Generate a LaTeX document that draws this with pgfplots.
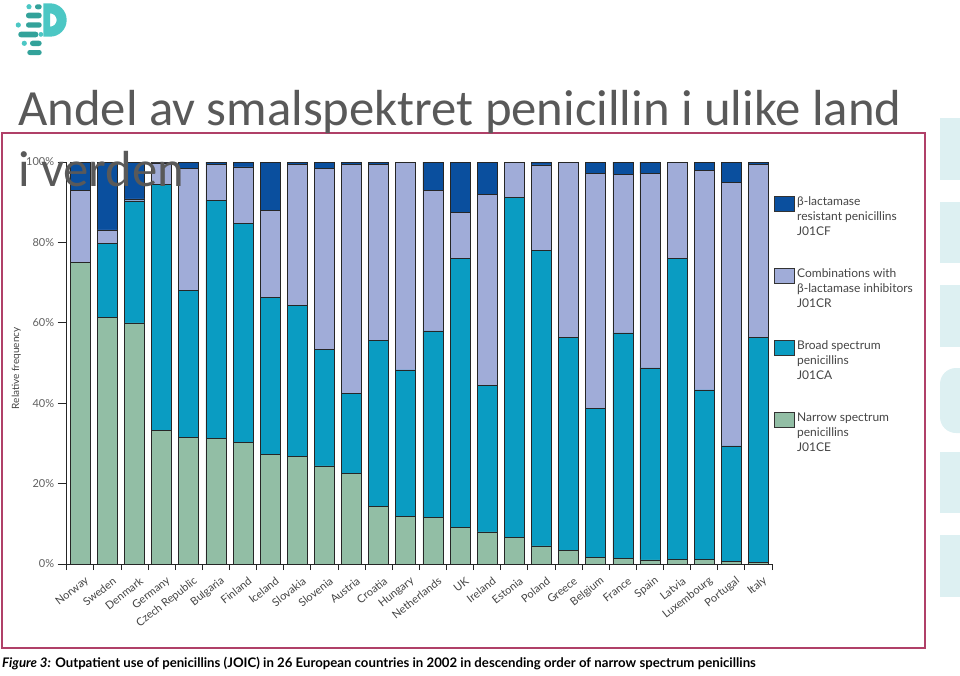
\documentclass[border=0pt]{standalone}
\usepackage{fontspec}
\usepackage{pgfplots}
\usepackage{pgfplotstable}
\pgfplotsset{compat=1.18}
\setmainfont{Lato}
\newfontfamily\titlefont{Carlito}
\definecolor{cCE}{HTML}{92BEA5}
\definecolor{cCA}{HTML}{0A9CC2}
\definecolor{cCR}{HTML}{A0ACD8}
\definecolor{cCF}{HTML}{0A4F9E}
\definecolor{framecol}{HTML}{B04068}
\definecolor{deco}{HTML}{DDF0F2}
\definecolor{titlegray}{HTML}{595959}
\definecolor{axgray}{HTML}{444444}
\definecolor{logodark}{HTML}{33A29A}
\definecolor{logolight}{HTML}{4CC7C4}

\pgfplotstableread{
x CE CA CR CF
0 75.0 0.0 18.0 7.0
1 61.3 18.5 3.3 16.9
2 60.0 30.3 0.5 9.2
3 33.2 61.2 5.4 0.2
4 31.4 36.6 30.4 1.6
5 31.2 59.3 8.9 0.6
6 30.3 54.4 14.1 1.2
7 27.3 39.0 21.7 12.0
8 26.7 37.7 35.0 0.6
9 24.4 29.0 45.0 1.6
10 22.6 19.9 56.9 0.6
11 14.3 41.4 43.7 0.6
12 11.8 36.5 51.7 0.0
13 11.5 46.5 35.0 7.0
14 9.2 66.8 11.4 12.6
15 8.0 36.5 47.5 8.0
16 6.6 84.5 8.9 0.0
17 4.5 73.6 21.2 0.7
18 3.3 53.0 43.7 0.0
19 1.7 37.0 58.5 2.8
20 1.4 56.1 39.4 3.1
21 1.0 47.8 48.4 2.8
22 1.2 74.8 24.0 0.0
23 1.2 42.1 54.7 2.0
24 0.6 28.8 65.5 5.1
25 0.4 56.0 43.0 0.6
}\data

\pgfplotsset{
  legbox/.style={legend image code/.code={\draw[##1,draw=black!80,line width=0.6bp] (0bp,5bp) rectangle (20bp,20bp);}},
}

\begin{document}
\begin{tikzpicture}
\path[use as bounding box] (0,0) rectangle (960bp,-676bp);
% right-side decoration
\fill[deco] (940bp,-118bp) rectangle (960bp,-180bp);
\fill[deco] (940bp,-202bp) rectangle (960bp,-263bp);
\fill[deco] (940bp,-285bp) rectangle (960bp,-347bp);
\fill[deco] (960bp,-368bp) [rounded corners=16bp] -- (940bp,-368bp) -- (940bp,-433bp) [sharp corners] -- (960bp,-433bp) -- cycle;
\fill[deco] (940bp,-452bp) rectangle (960bp,-513bp);
\fill[deco] (940bp,-535bp) rectangle (960bp,-597bp);
% frame
\draw[framecol, line width=1.5bp] (2bp,-133bp) rectangle (925bp,-648bp);

\begin{axis}[
  at={(66.7bp,-564bp)}, anchor=south west,
  scale only axis, width=705.3bp, height=402bp,
  xmin=-0.5, xmax=25.5, ymin=0, ymax=100,
  ybar stacked, bar width=20bp,
  axis x line*=bottom, axis y line*=left,
  axis line style={black!85, line width=0.8bp},
  every tick/.style={black!85, line width=0.8bp},
  tick align=outside,
  major tick length=9bp, minor tick length=6bp,
  xtick={0,...,25},
  major x tick style={draw=none},
  minor xtick={-0.5,0.5,...,25.5},
  xticklabels={Norway,Sweden,Denmark,Germany,Czech Republic,Bulgaria,Finland,Iceland,Slovakia,Slovenia,Austria,Croatia,Hungary,Netherlands,UK,Ireland,Estonia,Poland,Greece,Belgium,France,Spain,Latvia,Luxembourg,Portugal,Italy},
  x tick label style={xshift=8bp, yshift=-6bp, rotate=38, anchor=east, font=\fontsize{11bp}{13bp}\selectfont, text=axgray, inner sep=1bp},
  ytick={0,20,...,100},
  yticklabel={\pgfmathprintnumber{\tick}\%},
  y tick label style={font=\fontsize{11bp}{13bp}\selectfont, text=axgray!85},
  /pgf/number format/assume math mode=true,
  ylabel={Relative frequency},
  ylabel style={font=\fontsize{10bp}{12bp}\selectfont, text=axgray, at={(axis description cs:-0.06,0.487)}, anchor=south},
  every axis plot/.append style={draw=black!85, line width=0.6bp},
  reverse legend,
  legend cell align=left,
  legend style={at={(axis description cs:0.9984,0.920)}, anchor=north west, draw=none, fill=none,
    font=\fontsize{12bp}{15bp}\selectfont, text=axgray, row sep=31.5bp,
    nodes={align=left, inner sep=0pt},
    /tikz/every odd column/.append style={column sep=2.5bp}},
]
\addplot[fill=cCE, legbox] table[x=x,y=CE]{\data};
\addlegendentry{Narrow spectrum\\penicillins\\J01CE}
\addplot[fill=cCA, legbox] table[x=x,y=CA]{\data};
\addlegendentry{Broad spectrum\\penicillins\\J01CA}
\addplot[fill=cCR, legbox] table[x=x,y=CR]{\data};
\addlegendentry{Combinations with\\β-lactamase inhibitors\\J01CR}
\addplot[fill=cCF, legbox] table[x=x,y=CF]{\data};
\addlegendentry{β-lactamase\\resistant penicillins\\J01CF}
\end{axis}

% caption
\node[anchor=base west, inner sep=0pt] at (2bp,-667bp) {\fontsize{13.2bp}{15bp}\selectfont\bfseries\textit{Figure 3:} Outpatient use of penicillins (JOIC) in 26 European countries in 2002 in descending order of narrow spectrum penicillins};

% title
\node[anchor=base west, inner sep=0pt, text=titlegray] at (18bp,-125bp) {\titlefont\fontsize{50.7bp}{60bp}\selectfont Andel av smalspektret penicillin i ulike land};
\node[anchor=base west, inner sep=0pt, text=titlegray] at (18bp,-186.7bp) {\titlefont\fontsize{50.7bp}{60bp}\selectfont i verden};

% logo
\fill[logolight] (29bp,-6.7bp) circle (2.6bp);
\fill[logodark, rounded corners=2.4bp] (35bp,-4.3bp) rectangle (41.7bp,-9.3bp);
\fill[logodark, rounded corners=2.6bp] (26bp,-12.7bp) rectangle (41.7bp,-18.3bp);
\fill[logolight] (18.3bp,-25bp) circle (2.6bp);
\fill[logodark, rounded corners=2.6bp] (26bp,-22.3bp) rectangle (41.7bp,-27.7bp);
\fill[logodark, rounded corners=2.6bp] (18.3bp,-31.7bp) rectangle (38.3bp,-37.3bp);
\fill[logolight] (40.9bp,-34.4bp) circle (2.4bp);
\fill[logolight] (24.3bp,-43.3bp) circle (2.6bp);
\fill[logodark, rounded corners=2.6bp] (30bp,-40.7bp) rectangle (41.7bp,-46bp);
\fill[logodark, rounded corners=2.4bp] (27.3bp,-50bp) rectangle (41.7bp,-55bp);
\fill[logolight, even odd rule] (43.3bp,-3.3bp) -- (50bp,-3.3bp) arc[start angle=90,end angle=-90,radius=16.7bp] -- (43.3bp,-36.7bp) -- cycle
  (50bp,-13.3bp) arc[start angle=90,end angle=-90,radius=6.7bp] -- cycle;
\end{tikzpicture}
\end{document}
